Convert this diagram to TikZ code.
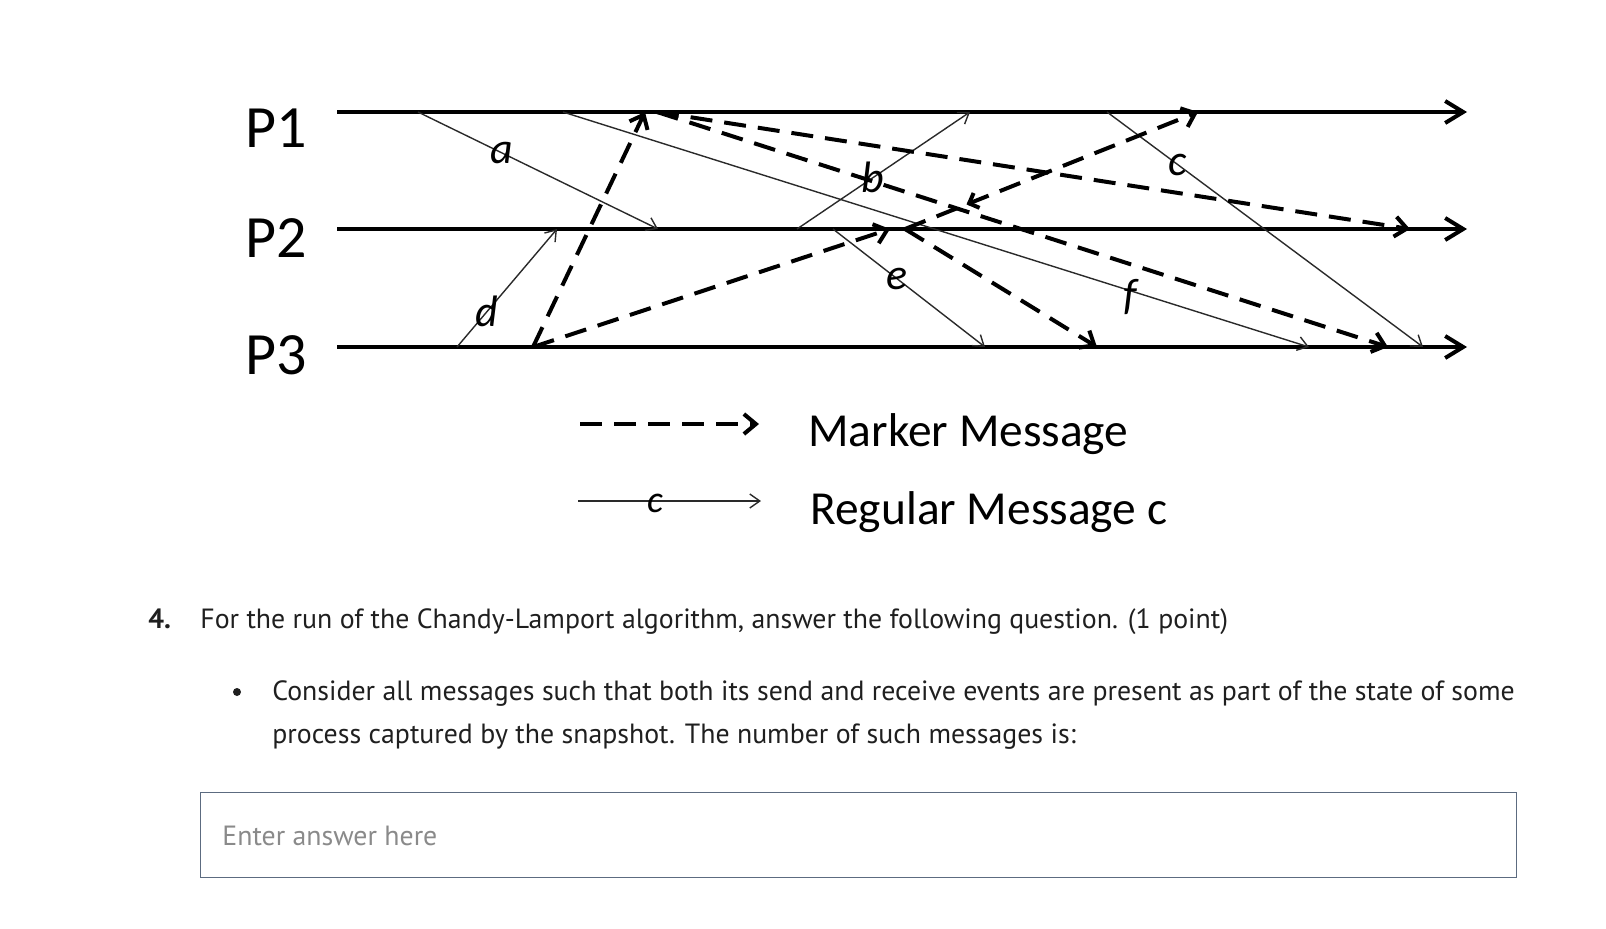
\documentclass[tikz,border=0pt]{standalone}
\usepackage{fontspec}
\setmainfont{PT Sans}
\newfontfamily\diagfont{Carlito}
\usetikzlibrary{arrows.meta,decorations.markings}
\definecolor{Ink}{HTML}{1F1F1F}
\definecolor{MsgGray}{HTML}{2A2A2A}
\definecolor{Hint}{HTML}{8A8A8A}
\definecolor{BoxEdge}{HTML}{5C6B80}
\tikzset{
  timeline/.style={line width=2pt, -{Straight Barb[length=9pt,width=11pt]}},
  marker/.style={line width=2pt, dash pattern=on 11pt off 6pt,
    -{Straight Barb[length=6pt,width=10pt]}},
  regmsg/.style={line width=0.7pt, draw=MsgGray,
    -{Straight Barb[length=5pt,width=7pt]}},
  msglabel/.style={font=\diagfont\fontsize{22}{22}\selectfont\itshape, inner sep=0pt},
  plabel/.style={font=\diagfont\fontsize{30}{30}\selectfont, inner sep=0pt},
  legtext/.style={font=\diagfont\fontsize{23.7}{24}\selectfont, inner sep=0pt, anchor=base west},
  qtext/.style={font=\fontsize{13.9}{16}\selectfont, text=Ink, inner sep=0pt, anchor=base west},
}

\begin{document}
\begin{tikzpicture}[x=0.5pt, y=-0.5pt]
  \useasboundingbox (0,0) rectangle (1606,928);

  % process lines
  \node[plabel] (P1) at (276,128) {P1};
  \node[plabel] (P2) at (276,238) {P2};
  \node[plabel] (P3) at (276,355) {P3};
  \coordinate (p1s) at (337,112); \coordinate (p1e) at (1467,112);
  \coordinate (p2s) at (337,229); \coordinate (p2e) at (1467,229);
  \coordinate (p3s) at (337,347); \coordinate (p3e) at (1467,347);
  \draw[timeline] (p1s) -- (p1e);
  \draw[timeline] (p2s) -- (p2e);
  \draw[timeline] (p3s) -- (p3e);

  % send / receive events
  \coordinate (as) at (418,112);  \coordinate (ar) at (658,229);
  \coordinate (fs) at (563,112);  \coordinate (fr) at (1309,347);
  \coordinate (ds) at (457,347);  \coordinate (dr) at (557,229);
  \coordinate (bs) at (797,229);  \coordinate (br) at (970,112);
  \coordinate (es) at (833,229);  \coordinate (er) at (985,347);
  \coordinate (cs) at (1107,112); \coordinate (cr) at (1423,347);

  \draw[regmsg] (as) -- node[msglabel, pos=0.35] (la) {a} (ar);
  \draw[regmsg] (fs) -- node[msglabel, pos=0.76, yshift=-3pt] (lf) {f} (fr);
  \draw[regmsg] (ds) -- node[msglabel, pos=0.3] (ld) {d} (dr);
  \draw[regmsg] (bs) -- node[msglabel, pos=0.44] (lb) {b} (br);
  \draw[regmsg] (es) -- node[msglabel, pos=0.42] (le) {e} (er);
  \draw[regmsg] (cs) -- node[msglabel, pos=0.225] (lc) {c} (cr);

  % markers
  \coordinate (snap3) at (533,347);
  \coordinate (mk31) at (645,112);
  \coordinate (snap1) at (657,112);
  \coordinate (mk32) at (890,229);
  \coordinate (snap2) at (905,229);
  \coordinate (mk12) at (1410,229);
  \coordinate (mk13) at (1388,347);
  \coordinate (mk21) at (1198,112);
  \coordinate (mk23) at (1097,347);
  \draw[marker] (snap3) -- (mk31);
  \draw[marker] (snap3) -- (mk32);
  \draw[marker] (snap1) -- (mk12);
  \draw[marker] (snap1) -- (mk13);
  \draw[marker, postaction={decorate}, decoration={markings,
    mark=at position 0.21 with {\arrowreversed[line width=2pt]{Straight Barb[length=4pt,width=8pt]}}}]
    (snap2) -- (mk21);
  \draw[marker] (snap2) -- (mk23);

  % legend
  \coordinate (lgm1) at (580,424); \coordinate (lgm2) at (759,424);
  \coordinate (lgr1) at (578,501); \coordinate (lgr2) at (761,501);
  \draw[marker] (lgm1) -- (lgm2);
  \draw[regmsg] (lgr1) -- (lgr2);
  \node[msglabel, font=\diagfont\fontsize{19}{19}\selectfont\itshape] (lgc) at (655,503) {c};
  \node[legtext] (mktxt) at (808,446) {Marker Message};
  \node[legtext] (rgtxt) at (810,524) {Regular Message c};

  % question
  \node[qtext, font=\fontsize{13.9}{16}\selectfont\bfseries] (qnum) at (148,628) {4.};
  \node[qtext] (q1) at (200,628) {For the run of the Chandy-Lamport algorithm, answer the following question. (1 point)};
  \node[circle, fill=Ink, minimum size=4pt, inner sep=0pt] (dot) at (237,692) {};
  \node[qtext] (q2) at (272,700) {Consider all messages such that both its send and receive events are present as part of the state of some};
  \node[qtext] (q3) at (272,743) {process captured by the snapshot. The number of such messages is:};
  \node[draw=BoxEdge, line width=0.7pt, anchor=north west, minimum width=658pt,
    minimum height=42.5pt, inner sep=0pt] (ans) at (200,792) {};
  \node[qtext, text=Hint] (hint) at (222,845) {Enter answer here};
\end{tikzpicture}
\end{document}
